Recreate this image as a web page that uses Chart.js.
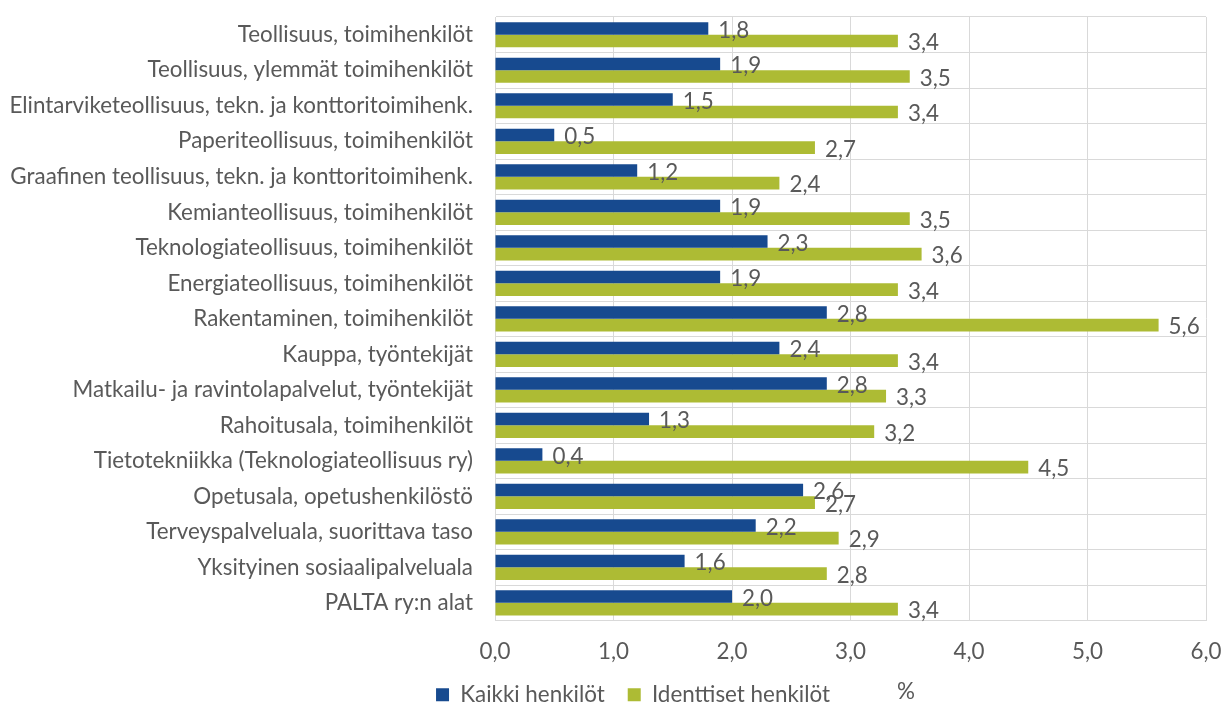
<!DOCTYPE html>
<html><head><meta charset="utf-8">
<script src="https://cdn.jsdelivr.net/npm/chart.js@4.4.0/dist/chart.umd.min.js"></script>
<style>html,body{margin:0;padding:0;background:#fff}#wrap{width:1224px;height:705px;position:relative}</style>
</head><body><div id="wrap"><canvas id="c" width="1224" height="705"></canvas></div>
<script>
const categories = [
  "Teollisuus, toimihenkilöt",
  "Teollisuus, ylemmät toimihenkilöt",
  "Elintarviketeollisuus, tekn. ja konttoritoimihenk.",
  "Paperiteollisuus, toimihenkilöt",
  "Graafinen teollisuus, tekn. ja konttoritoimihenk.",
  "Kemianteollisuus, toimihenkilöt",
  "Teknologiateollisuus, toimihenkilöt",
  "Energiateollisuus, toimihenkilöt",
  "Rakentaminen, toimihenkilöt",
  "Kauppa, työntekijät",
  "Matkailu- ja ravintolapalvelut, työntekijät",
  "Rahoitusala, toimihenkilöt",
  "Tietotekniikka (Teknologiateollisuus ry)",
  "Opetusala, opetushenkilöstö",
  "Terveyspalveluala, suorittava taso",
  "Yksityinen sosiaalipalveluala",
  "PALTA ry:n alat"
];
const kaikkiHenkilot = [1.8, 1.9, 1.5, 0.5, 1.2, 1.9, 2.3, 1.9, 2.8, 2.4, 2.8, 1.3, 0.4, 2.6, 2.2, 1.6, 2.0];
const identtisetHenkilot = [3.4, 3.5, 3.4, 2.7, 2.4, 3.5, 3.6, 3.4, 5.6, 3.4, 3.3, 3.2, 4.5, 2.7, 2.9, 2.8, 3.4];
const seriesNames = ["Kaikki henkilöt", "Identtiset henkilöt"];
const axisUnit = "%";
const xMin = 0, xMax = 6, xStep = 1;

const FONT = "Lato";
const FS = 22.4;
const TXT = "#595959";
const GRID = "#d9d9d9";
const LEG_PAD = 23, BOX = 13;
const fmt = v => Number(v).toFixed(1).replace('.', ',');

const labelPlugin = {
  id: 'valueLabels',
  afterLayout(chart) {
    const lg = chart.legend;
    const dx = 30, dy = 11;
    if (lg) {
      lg.left += dx; lg.right += dx;
      lg.top += dy; lg.bottom += dy;
    }
    if (chart.scales.x) chart.scales.x.bottom = chart.height;
  },
  afterDatasetsDraw(chart) {
    const ctx = chart.ctx;
    ctx.save();
    ctx.font = FS + "px " + FONT;
    ctx.fillStyle = TXT;
    ctx.textAlign = 'left';
    ctx.textBaseline = 'middle';
    chart.data.datasets.forEach((ds, di) => {
      const meta = chart.getDatasetMeta(di);
      meta.data.forEach((el, i) => {
        ctx.fillText(fmt(ds.data[i]), el.x + 10, el.y + 2);
      });
    });
    ctx.restore();
  },
  afterDraw(chart) {
    const lg = chart.legend;
    if (!lg || !lg.legendHitBoxes || !lg.legendHitBoxes.length) return;
    const last = lg.legendHitBoxes[lg.legendHitBoxes.length - 1];
    const ctx = chart.ctx;
    ctx.save();
    ctx.font = FS + "px " + FONT;
    ctx.fillStyle = TXT;
    ctx.textAlign = 'left';
    ctx.textBaseline = 'middle';
    ctx.fillText(axisUnit, last.left + last.width + 67, lg.top + LEG_PAD + Math.max(FS, BOX) / 2 - 3);
    ctx.restore();
  }
};

new Chart(document.getElementById('c'), {
  type: 'bar',
  data: {
    labels: categories,
    datasets: [
      { label: seriesNames[0], data: kaikkiHenkilot, backgroundColor: '#174a8f', borderWidth: 0, categoryPercentage: 0.71, barPercentage: 1.0 },
      { label: seriesNames[1], data: identtisetHenkilot, backgroundColor: '#adbb34', borderWidth: 0, categoryPercentage: 0.71, barPercentage: 1.0 }
    ]
  },
  options: {
    indexAxis: 'y',
    responsive: false,
    devicePixelRatio: 1,
    animation: false,
    layout: { padding: { left: 0, right: 18, top: 17, bottom: 0 } },
    plugins: {
      tooltip: { enabled: false },
      legend: {
        position: 'bottom',
        labels: { font: { family: FONT, size: FS }, color: TXT, boxWidth: BOX, boxHeight: BOX, padding: LEG_PAD }
      }
    },
    scales: {
      x: {
        min: xMin, max: xMax,
        ticks: { stepSize: xStep, callback: v => fmt(v), font: { family: FONT, size: FS }, color: TXT, padding: 18, maxRotation: 0 },
        grid: { color: GRID, drawTicks: false, lineWidth: 1 },
        border: { color: GRID },
        afterFit(scale) { scale.height = 29; scale.paddingLeft = 0; scale.paddingRight = 0; }
      },
      y: {
        ticks: { font: { family: FONT, size: FS }, color: TXT, padding: 22, autoSkip: false },
        grid: { color: GRID, drawTicks: false, offset: true },
        border: { color: GRID },
        afterFit(scale) { scale.width = 495; scale.paddingTop = 0; scale.paddingBottom = 0; }
      }
    }
  },
  plugins: [labelPlugin]
});
</script>
</body></html>
